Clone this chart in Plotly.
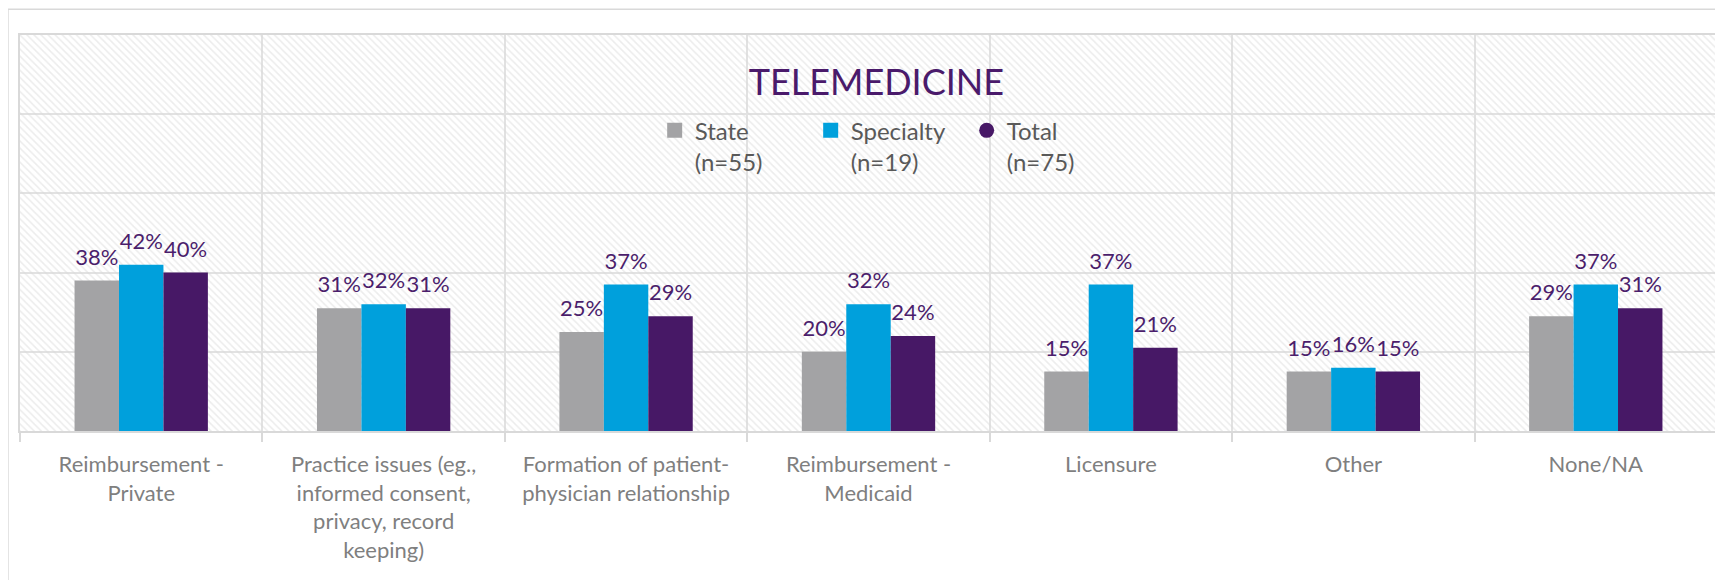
import plotly.graph_objects as go

# data
categories = [
    "Reimbursement -<br>Private",
    "Practice issues (eg.,<br>informed consent,<br>privacy, record<br>keeping)",
    "Formation of patient-<br>physician relationship",
    "Reimbursement -<br>Medicaid",
    "Licensure",
    "Other",
    "None/NA",
]
state = [0.38, 0.31, 0.25, 0.20, 0.15, 0.15, 0.29]
specialty = [0.42, 0.32, 0.37, 0.32, 0.37, 0.16, 0.37]
total = [0.40, 0.31, 0.29, 0.24, 0.21, 0.15, 0.31]

series_names = ["State<br>(n=55)", "Specialty<br>(n=19)", "Total<br>(n=75)"]
series_values = [state, specialty, total]
series_colors = ["#a3a3a5", "#00a0dc", "#471866"]
legend_symbols = ["square", "square", "circle"]

FONT = "Lato"
GRID = "#e2e2e2"
LABEL_PURPLE = "#4b1e6c"
GAP = 0.45

fig = go.Figure()

# hatched plot background, on the base subplot so it sits under the bars
fig.add_trace(go.Bar(
    x=[0.5], y=[1], width=[1], xaxis="x", yaxis="y",
    marker=dict(color="rgba(0,0,0,0)", line=dict(width=0),
                pattern=dict(shape="\\", fgcolor="#d9d9d9", bgcolor="rgba(0,0,0,0)",
                             size=5, solidity=0.3)),
    showlegend=False, hoverinfo="skip",
))

for name, vals, col in zip(series_names, series_values, series_colors):
    fig.add_trace(go.Bar(
        x=categories, y=vals, name=name, xaxis="x2", yaxis="y2",
        marker=dict(color=col, line=dict(width=0)),
        showlegend=False,
    ))

# value labels: grouped text scatter so they sit a little above each bar
for name, vals in zip(series_names, series_values):
    fig.add_trace(go.Scatter(
        x=categories, y=vals, xaxis="x2", yaxis="y2", mode="markers+text",
        text=[f"{v:.0%}" for v in vals], textposition="top center",
        textfont=dict(family=FONT, size=22, color=LABEL_PURPLE),
        marker=dict(size=15, opacity=0), cliponaxis=False,
        showlegend=False, hoverinfo="skip",
    ))

# legend entries (Excel shows Total as a round marker)
for name, col, sym in zip(series_names, series_colors, legend_symbols):
    fig.add_trace(go.Scatter(
        x=[None], y=[None], name=name, mode="markers", xaxis="x", yaxis="y",
        marker=dict(color=col, symbol=sym, size=15),
    ))

# the page body adds an 8px offset, margins are set to compensate
fig.update_layout(
    width=1723, height=580,
    margin=dict(l=12, r=14, t=27, b=157),
    paper_bgcolor="white", plot_bgcolor="white",
    barmode="group", bargap=GAP, bargroupgap=0,
    scattermode="group", scattergap=GAP,
    font=dict(family=FONT),
    title=dict(text="TELEMEDICINE", x=0.504, xanchor="center", y=0.871, yanchor="middle",
               font=dict(family=FONT, size=36, color="#4a1a6b")),
    legend=dict(orientation="h", x=0.374, xanchor="left", y=0.815, yanchor="top",
                valign="top", entrywidthmode="pixels", entrywidth=111,
                font=dict(family=FONT, size=24, color="#595959"),
                bgcolor="rgba(0,0,0,0)"),
    xaxis=dict(range=[0, 1], visible=False, fixedrange=True),
    yaxis=dict(range=[0, 1], visible=False, fixedrange=True),
    xaxis2=dict(overlaying="x", anchor="y2", type="category",
                showgrid=True, gridcolor=GRID, gridwidth=1.5, tickson="boundaries",
                ticks="outside", ticklen=9, tickcolor="#d9d9d9", tickwidth=1.5,
                ticklabelstandoff=13,
                showline=True, linecolor="#d9d9d9", linewidth=1.5, mirror=True,
                tickfont=dict(family=FONT, size=22, color="#7f7f7f")),
    yaxis2=dict(overlaying="y", anchor="x2", range=[0, 1], dtick=0.2,
                showgrid=True, gridcolor=GRID, gridwidth=1.5, showticklabels=False,
                zeroline=False, showline=True, linecolor="#d9d9d9", linewidth=1.5, mirror=True),
    shapes=[dict(type="rect", xref="paper", yref="paper",
                 x0=-0.0071, x1=1.02, y0=-0.45, y1=1.065,
                 line=dict(color="#d9d9d9", width=1.5), fillcolor="rgba(0,0,0,0)",
                 layer="below")],
)

fig.write_html("out.html")
